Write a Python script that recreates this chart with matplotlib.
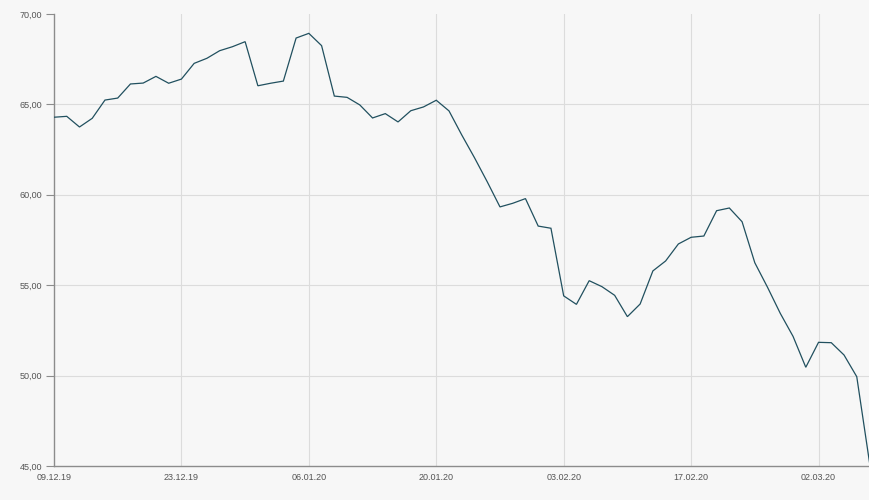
import matplotlib
matplotlib.use('Agg')
import matplotlib.pyplot as plt

# Closing prices, one per trading day (09.12.19 - 06.03.20)
prices = [
    64.29, 64.34, 63.75, 64.23, 65.24, 65.35, 66.13, 66.18, 66.55, 66.17,
    66.40, 67.27, 67.55, 67.97, 68.19, 68.47, 66.03, 66.17, 66.29, 68.67,
    68.93, 68.25, 65.46, 65.39, 64.97, 64.25, 64.49, 64.03, 64.65, 64.86,
    65.23, 64.64, 63.31, 62.05, 60.72, 59.33, 59.53, 59.79, 58.27, 58.15,
    54.41, 53.94, 55.25, 54.92, 54.44, 53.26, 53.96, 55.79, 56.34, 57.28,
    57.65, 57.72, 59.12, 59.27, 58.51, 56.24, 54.88, 53.44, 52.17, 50.46,
    51.84, 51.82, 51.14, 49.94, 45.20,
]

# x tick labels every 10 trading days
date_labels = ['09.12.19', '23.12.19', '06.01.20', '20.01.20',
               '03.02.20', '17.02.20', '02.03.20']
date_ticks = [0, 10, 20, 30, 40, 50, 60]

y_ticks = [45, 50, 55, 60, 65, 70]

bg = '#f7f7f7'
grid_col = '#dcdcdc'
axis_col = '#8c8c8c'
text_col = '#555555'

plt.rcParams['font.family'] = ['Liberation Sans', 'DejaVu Sans']

fig = plt.figure(figsize=(8.7, 5), dpi=100, facecolor=bg)
ax = fig.add_axes([54 / 870, 34 / 500, 815.5 / 870, 452 / 500])
ax.set_facecolor(bg)

# grid
for t in date_ticks[1:]:
    ax.axvline(t, color=grid_col, lw=0.8, zorder=0)
for v in y_ticks[1:-1]:
    ax.axhline(v, color=grid_col, lw=0.8, zorder=0)

ax.plot(range(len(prices)), prices, color='#21505f', lw=0.9, zorder=3,
        solid_joinstyle='miter')

ax.set_xlim(0, len(prices) - 1)
ax.set_ylim(45, 70)

ax.set_xticks(date_ticks)
ax.set_xticklabels(date_labels)
ax.set_yticks(y_ticks)
ax.set_yticklabels([f'{v:.2f}'.replace('.', ',') for v in y_ticks])

for side in ['top', 'right']:
    ax.spines[side].set_visible(False)
for side in ['left', 'bottom']:
    ax.spines[side].set_color(axis_col)
    ax.spines[side].set_linewidth(1.0)

ax.tick_params(axis='y', length=5.5, width=0.8, color=axis_col, pad=3,
               labelsize=6.5, labelcolor=text_col)
ax.tick_params(axis='x', length=0, pad=5, labelsize=6.5, labelcolor=text_col)

fig.savefig('out.png', dpi=100, facecolor=bg)
